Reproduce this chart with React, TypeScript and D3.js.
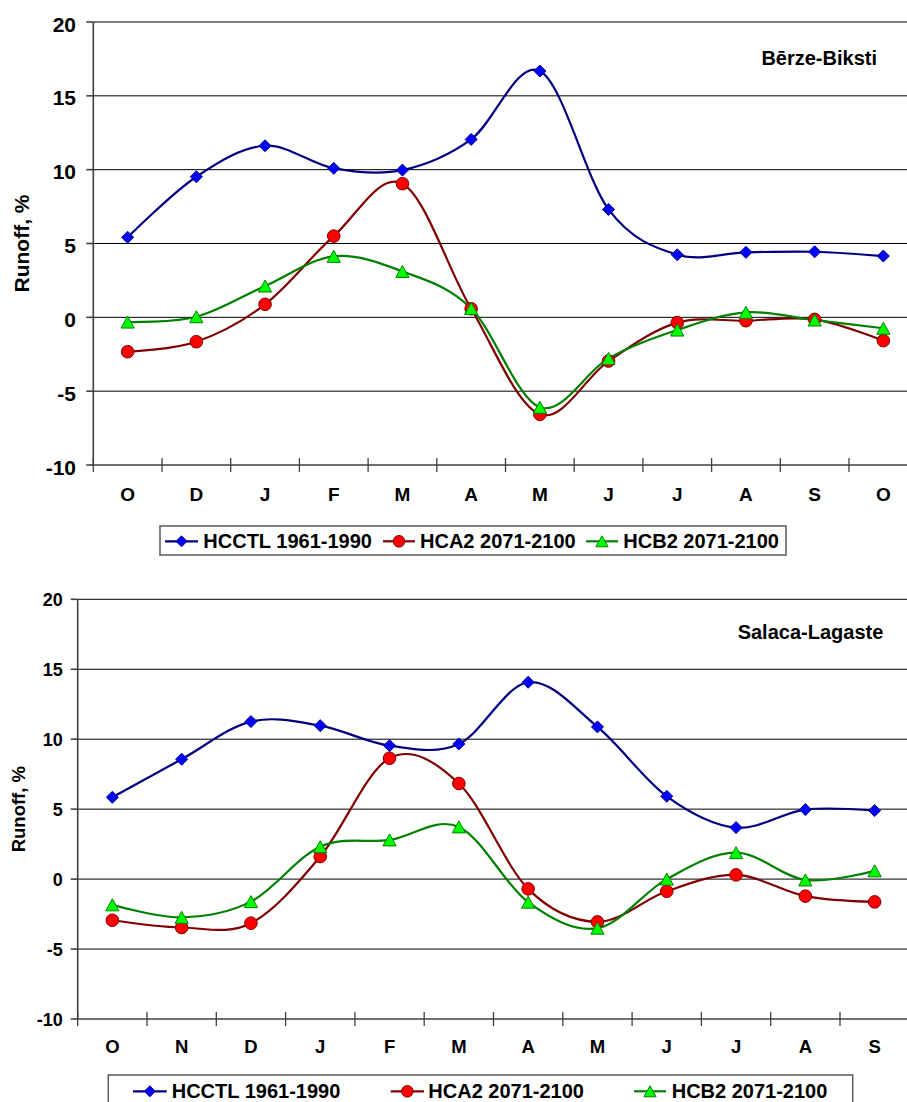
import React from "react";
import * as d3 from "d3";

// Monthly runoff change (%) for two Latvian river gauges
const monthsBerze = ["O", "D", "J", "F", "M", "A", "M", "J", "J", "A", "S", "O"];
const monthsSalaca = ["O", "N", "D", "J", "F", "M", "A", "M", "J", "J", "A", "S"];

const berzeCtl = [5.42, 9.52, 11.62, 10.09, 9.97, 12.05, 16.68, 7.31, 4.24, 4.4, 4.44, 4.15];
const berzeA2 = [-2.33, -1.65, 0.88, 5.5, 9.05, 0.58, -6.57, -2.96, -0.36, -0.23, -0.14, -1.58];
const berzeB2 = [-0.32, 0.04, 2.12, 4.13, 3.11, 0.6, -6.09, -2.78, -0.86, 0.34, -0.18, -0.74];

const salacaCtl = [5.85, 8.57, 11.26, 10.97, 9.54, 9.66, 14.07, 10.88, 5.92, 3.68, 4.97, 4.9];
const salacaA2 = [-2.94, -3.46, -3.15, 1.61, 8.64, 6.83, -0.7, -3.06, -0.87, 0.3, -1.22, -1.63];
const salacaB2 = [-1.84, -2.73, -1.61, 2.32, 2.8, 3.73, -1.65, -3.51, 0.0, 1.89, -0.06, 0.59];

const seriesNames = ["HCCTL 1961-1990", "HCA2 2071-2100", "HCB2 2071-2100"];
const yTicks = [-10, -5, 0, 5, 10, 15, 20];

const FONT = "'Liberation Sans', Arial, Helvetica, sans-serif";

const STYLES = [
  { line: "#000080", fill: "#0000FF", stroke: "#000080", shape: "diamond" },
  { line: "#800000", fill: "#FF0000", stroke: "#800000", shape: "circle" },
  { line: "#008000", fill: "#00FF00", stroke: "#008000", shape: "triangle" },
];

function Marker({ shape, x, y, fill, stroke, s = 6 }) {
  if (shape === "diamond") {
    const d = `M${x},${y - s}L${x + s},${y}L${x},${y + s}L${x - s},${y}Z`;
    return <path d={d} fill={fill} stroke={stroke} strokeWidth={1} />;
  }
  if (shape === "circle") {
    return <circle cx={x} cy={y} r={s + 0.3} fill={fill} stroke={stroke} strokeWidth={1} />;
  }
  const d = `M${x},${y - s}L${x + s + 0.6},${y + s}L${x - s - 0.6},${y + s}Z`;
  return <path d={d} fill={fill} stroke={stroke} strokeWidth={1} />;
}

function Panel({ cfg }) {
  const x = d3
    .scaleBand()
    .domain(d3.range(cfg.months.length))
    .range([cfg.left, cfg.right])
    .paddingInner(0)
    .paddingOuter(0);
  const y = d3.scaleLinear().domain([-10, 20]).range([cfg.bottom, cfg.top]);
  const cx = (i) => x(i) + x.bandwidth() / 2;

  const lineGen = d3
    .line()
    .x((d, i) => cx(i))
    .y((d) => y(d))
    .curve(d3.curveCardinal.tension(0));

  const boundaries = d3.range(cfg.months.length + 1).map((i) =>
    i < cfg.months.length ? x(i) : x(i - 1) + x.bandwidth()
  );

  return (
    <g>
      {/* horizontal gridlines */}
      {yTicks
        .filter((t) => t !== -10)
        .map((t) => (
          <line
            key={"g" + t}
            x1={cfg.left}
            x2={cfg.right}
            y1={y(t)}
            y2={y(t)}
            stroke="#000"
            strokeWidth={1}
          />
        ))}
      {/* value axis */}
      <line x1={cfg.left} x2={cfg.left} y1={cfg.top} y2={cfg.bottom} stroke="#404040" strokeWidth={1.6} />
      {yTicks.map((t) => (
        <g key={"yt" + t}>
          <line x1={cfg.left - 7} x2={cfg.left} y1={y(t)} y2={y(t)} stroke="#404040" strokeWidth={1.6} />
          <text
            x={cfg.yLabelX}
            y={y(t) + cfg.yLabelDy}
            textAnchor="end"
            fontFamily={FONT}
            fontWeight="bold"
            fontSize={cfg.tickFont}
            fill="#000"
          >
            {t}
          </text>
        </g>
      ))}
      {/* category axis */}
      <line x1={cfg.left} x2={cfg.right} y1={cfg.bottom} y2={cfg.bottom} stroke="#404040" strokeWidth={1.6} />
      {boundaries.map((bx, i) => (
        <line key={"xt" + i} x1={bx} x2={bx} y1={cfg.bottom - 7} y2={cfg.bottom + 7} stroke="#404040" strokeWidth={1.3} />
      ))}
      {cfg.months.map((m, i) => (
        <text
          key={"xl" + i}
          x={cx(i)}
          y={cfg.monthBaseline}
          textAnchor="middle"
          fontFamily={FONT}
          fontWeight="bold"
          fontSize={cfg.monthFont}
          fill="#000"
        >
          {m}
        </text>
      ))}
      {/* axis title */}
      <text
        transform={`translate(${cfg.titleX},${(cfg.top + cfg.bottom) / 2}) rotate(-90)`}
        textAnchor="middle"
        fontFamily={FONT}
        fontWeight="bold"
        fontSize={cfg.axisTitleFont}
        fill="#000"
      >
        Runoff, %
      </text>
      {/* gauge name */}
      <text
        x={cfg.nameX}
        y={cfg.nameY}
        textAnchor="end"
        fontFamily={FONT}
        fontWeight="bold"
        fontSize={20}
        fill="#000"
      >
        {cfg.name}
      </text>
      {/* series */}
      {cfg.series.map((vals, si) => (
        <path key={"l" + si} d={lineGen(vals)} fill="none" stroke={STYLES[si].line} strokeWidth={2.2} />
      ))}
      {cfg.series.map((vals, si) =>
        vals.map((v, i) => (
          <Marker
            key={"m" + si + "-" + i}
            shape={STYLES[si].shape}
            x={cx(i)}
            y={y(v)}
            fill={STYLES[si].fill}
            stroke={STYLES[si].stroke}
          />
        ))
      )}
      {/* legend */}
      <rect
        x={cfg.legend.x0}
        y={cfg.legend.y0}
        width={cfg.legend.x1 - cfg.legend.x0}
        height={cfg.legend.y1 - cfg.legend.y0}
        fill="#fff"
        stroke="#5a5a5a"
        strokeWidth={1.5}
      />
      {seriesNames.map((name, si) => {
        const it = cfg.legend.items[si];
        const ly = cfg.legend.baseline - 7;
        return (
          <g key={"lg" + si}>
            <line x1={it.l0} x2={it.l1} y1={ly} y2={ly} stroke={STYLES[si].line} strokeWidth={2.2} />
            <Marker
              shape={STYLES[si].shape}
              x={(it.l0 + it.l1) / 2}
              y={ly}
              fill={STYLES[si].fill}
              stroke={STYLES[si].stroke}
              s={5.5}
            />
            <text x={it.t} y={cfg.legend.baseline} fontFamily={FONT} fontWeight="bold" fontSize={20} fill="#000">
              {name}
            </text>
          </g>
        );
      })}
    </g>
  );
}

const panels = [
  {
    name: "Bērze-Biksti",
    months: monthsBerze,
    series: [berzeCtl, berzeA2, berzeB2],
    left: 93.3,
    right: 917.7,
    top: 22,
    bottom: 465,
    tickFont: 21,
    yLabelX: 76,
    yLabelDy: 9.5,
    monthFont: 19,
    monthBaseline: 501,
    axisTitleFont: 21,
    titleX: 29,
    nameX: 877,
    nameY: 65,
    legend: {
      x0: 160,
      x1: 786,
      y0: 526,
      y1: 555,
      baseline: 548.3,
      items: [
        { l0: 165, l1: 198, t: 203.3 },
        { l0: 383, l1: 415, t: 420 },
        { l0: 586, l1: 618, t: 623.3 },
      ],
    },
  },
  {
    name: "Salaca-Lagaste",
    months: monthsSalaca,
    series: [salacaCtl, salacaA2, salacaB2],
    left: 77.7,
    right: 909.3,
    top: 599.3,
    bottom: 1019,
    tickFont: 18,
    yLabelX: 62.7,
    yLabelDy: 6.6,
    monthFont: 18.5,
    monthBaseline: 1053.3,
    axisTitleFont: 18.5,
    titleX: 24.5,
    nameX: 883.3,
    nameY: 639.3,
    legend: {
      x0: 108.3,
      x1: 852.7,
      y0: 1075,
      y1: 1115,
      baseline: 1098.3,
      items: [
        { l0: 133, l1: 166.7, t: 171.7 },
        { l0: 390.7, l1: 424, t: 428.3 },
        { l0: 634, l1: 666, t: 671.7 },
      ],
    },
  },
];

export default function App() {
  return (
    <svg
      width={907}
      height={1102}
      viewBox="0 0 907 1102"
      style={{ position: "absolute", left: 0, top: 0, background: "#fff", display: "block" }}
    >
      <rect x={0} y={0} width={907} height={1102} fill="#fff" />
      {panels.map((p, i) => (
        <Panel key={i} cfg={p} />
      ))}
    </svg>
  );
}
